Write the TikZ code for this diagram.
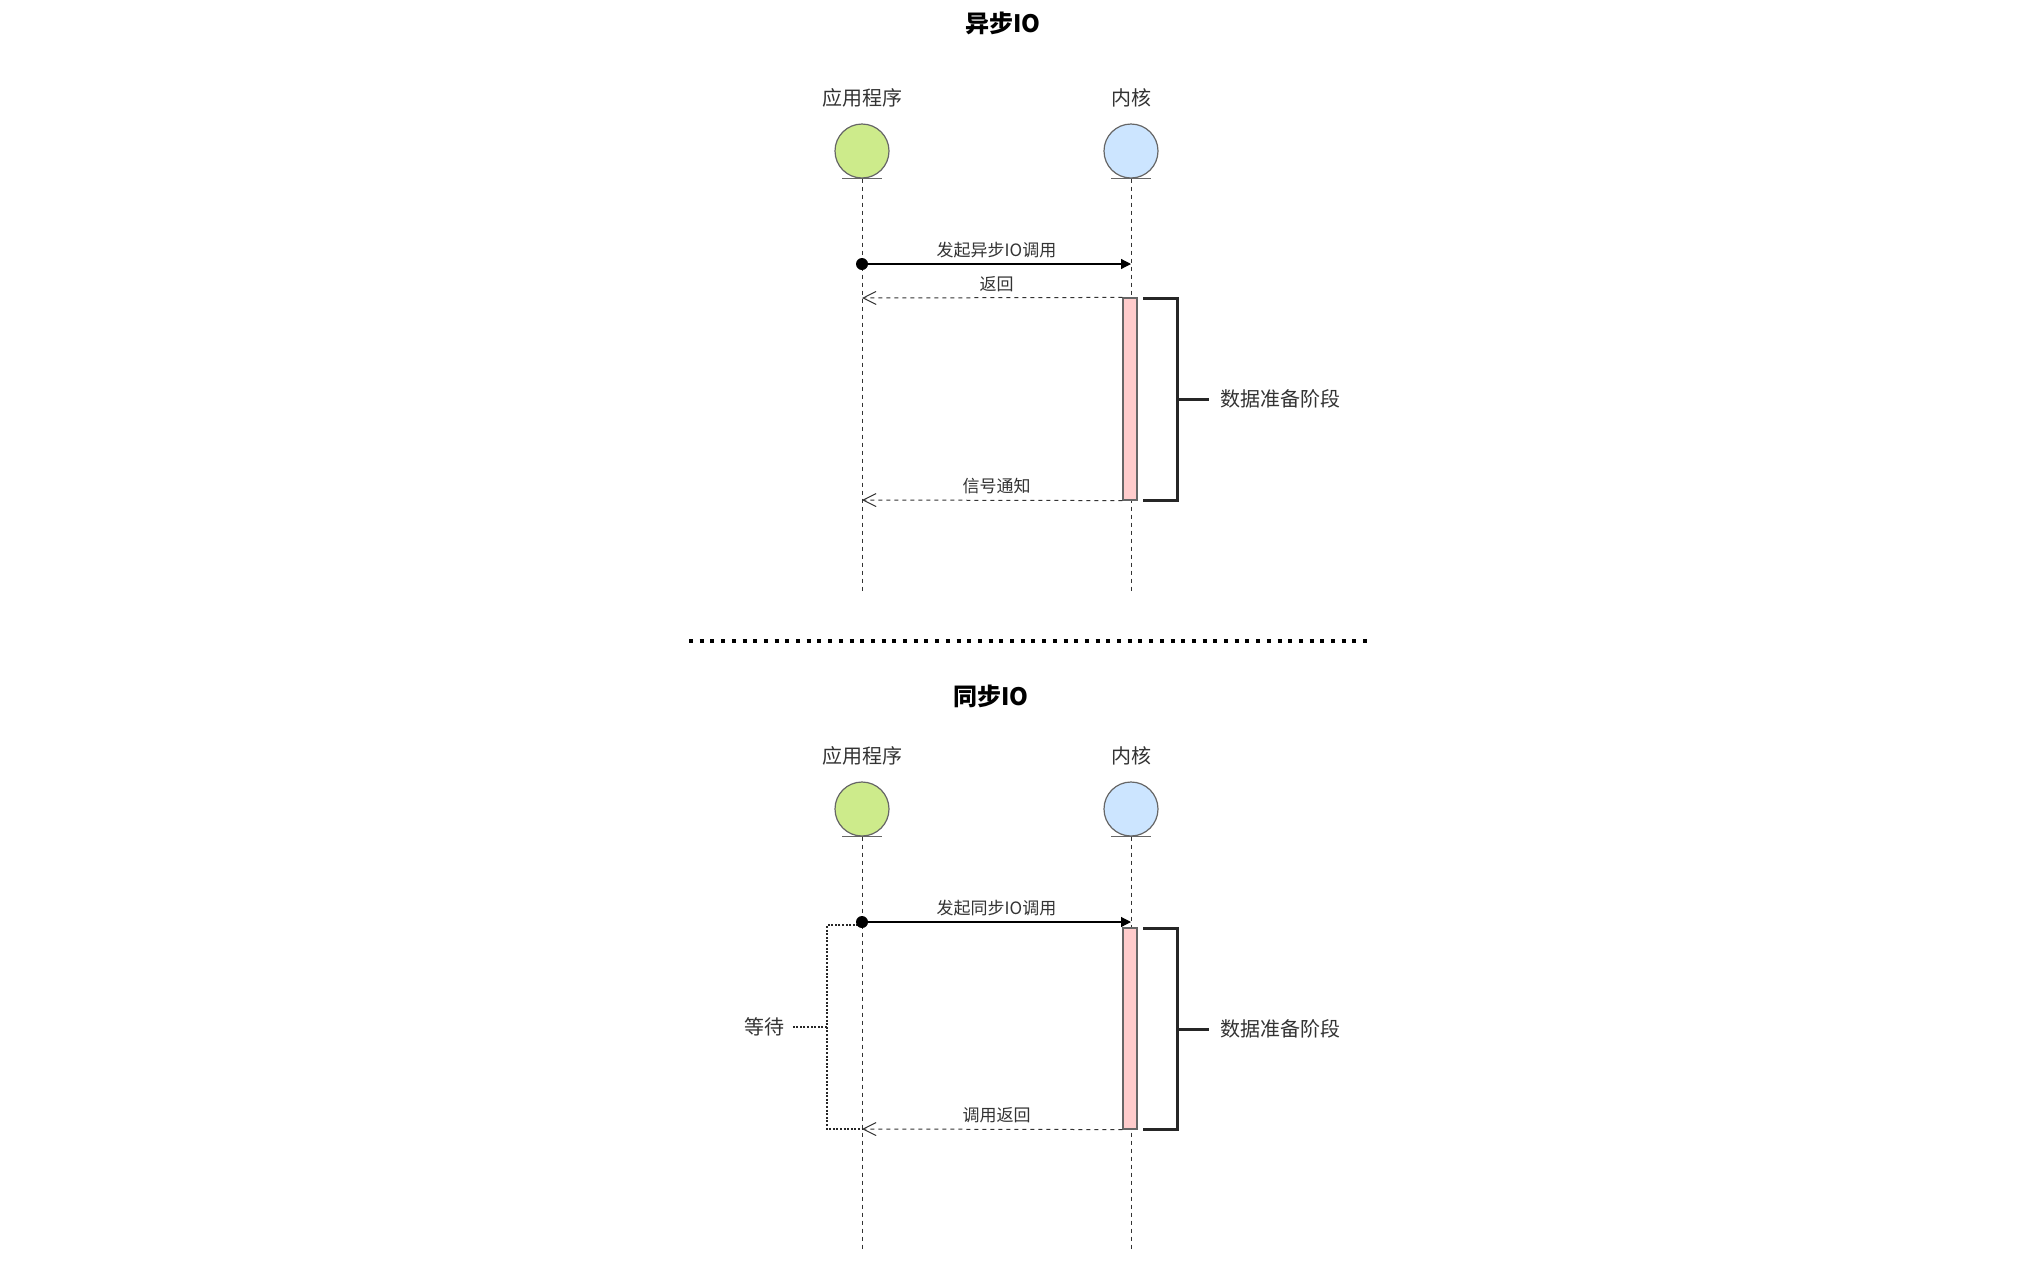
\documentclass[tikz,border=0pt]{standalone}
\usepackage{fontspec}
\setmainfont{Noto Sans CJK SC}
\usetikzlibrary{arrows.meta}
\definecolor{appgreen}{HTML}{CDEB8B}
\definecolor{kernblue}{HTML}{CCE5FF}
\definecolor{actpink}{HTML}{FFCCCC}
\definecolor{strokegray}{HTML}{666666}
\definecolor{textgray}{HTML}{333333}
\begin{document}
\begin{tikzpicture}[x=0.5pt,y=-0.5pt,
  titletext/.style={font=\fontsize{12pt}{14pt}\selectfont\bfseries, text=black, inner sep=0pt},
  lanelabel/.style={font=\fontsize{10pt}{12pt}\selectfont, text=textgray, inner sep=0pt},
  msglabel/.style={font=\fontsize{8.5pt}{10pt}\selectfont, text=textgray, inner sep=0pt},
  sidelabel/.style={font=\fontsize{10pt}{12pt}\selectfont, text=textgray, inner sep=0pt},
  actorapp/.style={circle, draw=strokegray, fill=appgreen, minimum size=27pt, inner sep=0pt, line width=0.6pt},
  actorkern/.style={circle, draw=strokegray, fill=kernblue, minimum size=27pt, inner sep=0pt, line width=0.6pt},
  groundline/.style={draw=strokegray, line width=0.6pt},
  lifeline/.style={draw=textgray, line width=0.5pt, dash pattern=on 2pt off 2pt},
  startdot/.style={circle, fill=black, minimum size=6pt, inner sep=0pt},
  callmsg/.style={draw=black, line width=0.6pt, -{Triangle[length=5pt,width=5pt]}},
  retmsg/.style={draw=textgray, line width=0.5pt, dash pattern=on 2pt off 2pt, -{Straight Barb[length=6.5pt,width=6.5pt]}},
  activation/.style={rectangle, draw=strokegray, fill=actpink, minimum width=7pt, inner sep=0pt, line width=0.6pt},
  phasebracket/.style={draw=black!85, line width=1.5pt},
  separator/.style={draw=black, line width=2pt, dash pattern=on 2pt off 3.35pt},
  waitline/.style={draw=black!85, line width=1.4pt, dash pattern=on 1pt off 0.8pt}
]
\useasboundingbox (0,0) rectangle (2026,1270);

% ===================== 异步IO =====================
\node[titletext] (t1) at (1003,23) {异步IO};
\node[lanelabel] (la1) at (862,98) {应用程序};
\node[lanelabel] (lk1) at (1131,98) {内核};
\node[actorapp] (a1) at (862,151) {};
\node[actorkern] (k1) at (1131,151) {};
\draw[groundline] ([xshift=-10pt]a1.south) -- ([xshift=10pt]a1.south);
\draw[groundline] ([xshift=-10pt]k1.south) -- ([xshift=10pt]k1.south);
\coordinate (a1end) at (862,592);
\coordinate (k1end) at (1131,592);
\draw[lifeline] (a1.south) -- (a1end);
\draw[lifeline] (k1.south) -- (k1end);

\node[activation, minimum height=101pt] (act1) at (1130,399) {};

\node[startdot] (d1) at (862,264) {};
\coordinate (k1call) at (1131,264);
\draw[callmsg] (d1.center) -- (k1call);
\node[msglabel] (m1) at (996.5,250) {发起异步IO调用};

\coordinate (a1ret) at (862,298);
\draw[retmsg] (act1.north west) -- (a1ret);
\node[msglabel] (m2) at (996.5,284) {返回};

\coordinate (a1sig) at (862,500);
\draw[retmsg] (act1.south west) -- (a1sig);
\node[msglabel] (m3) at (996.5,486) {信号通知};

\coordinate (b1top) at (1143,298);
\coordinate (b1bot) at (1143,500);
\coordinate (b1mid) at (1177,399);
\node[sidelabel, anchor=west] (p1) at (1220,399) {数据准备阶段};
\draw[phasebracket] (b1top) -- (1177,298) -- (1177,500) -- (b1bot);
\draw[phasebracket] (b1mid) -- ([xshift=-5.5pt]p1.west);

% ===================== separator =====================
\coordinate (sepL) at (689,641);
\coordinate (sepR) at (1372,641);
\draw[separator] (sepL) -- (sepR);

% ===================== 同步IO =====================
\node[titletext] (t2) at (991,696) {同步IO};
\node[lanelabel] (la2) at (862,756) {应用程序};
\node[lanelabel] (lk2) at (1131,756) {内核};
\node[actorapp] (a2) at (862,809) {};
\node[actorkern] (k2) at (1131,809) {};
\draw[groundline] ([xshift=-10pt]a2.south) -- ([xshift=10pt]a2.south);
\draw[groundline] ([xshift=-10pt]k2.south) -- ([xshift=10pt]k2.south);
\coordinate (a2end) at (862,1249);
\coordinate (k2end) at (1131,1249);
\draw[lifeline] (a2.south) -- (a2end);
\draw[lifeline] (k2.south) -- (k2end);

\node[activation, minimum height=100.5pt] (act2) at (1130,1028.5) {};

% wait bracket
\coordinate (w2top) at (862,925);
\coordinate (w2bot) at (862,1129);
\coordinate (w2mid) at (827,1027);
\node[sidelabel, anchor=east] (w2) at (785,1027) {等待};
\draw[waitline] (w2top) -- (827,925) -- (827,1129) -- (w2bot);
\draw[waitline] (w2mid) -- ([xshift=4pt]w2.east);

\node[startdot] (d2) at (862,922) {};
\coordinate (k2call) at (1131,922);
\draw[callmsg] (d2.center) -- (k2call);
\node[msglabel] (m4) at (996.5,908) {发起同步IO调用};

\coordinate (a2ret) at (862,1129);
\draw[retmsg] (act2.south west) -- (a2ret);
\node[msglabel] (m5) at (996.5,1115) {调用返回};

\coordinate (b2top) at (1143,928);
\coordinate (b2bot) at (1143,1129);
\coordinate (b2mid) at (1177,1029);
\node[sidelabel, anchor=west] (p2) at (1220,1029) {数据准备阶段};
\draw[phasebracket] (b2top) -- (1177,928) -- (1177,1129) -- (b2bot);
\draw[phasebracket] (b2mid) -- ([xshift=-5.5pt]p2.west);
\end{tikzpicture}
\end{document}
